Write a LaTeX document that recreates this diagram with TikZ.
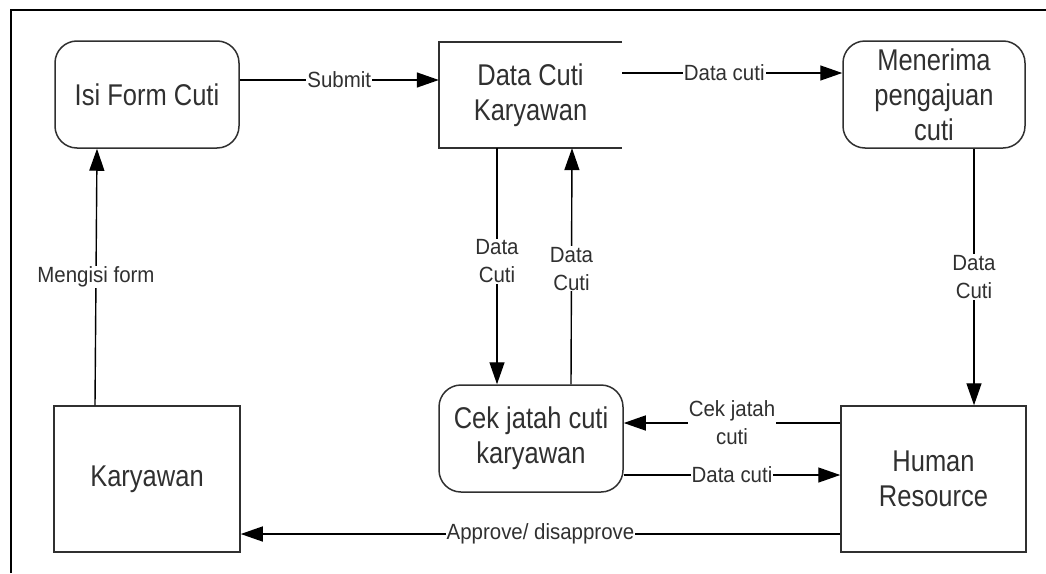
\documentclass[tikz,border=0pt]{standalone}
\usepackage{fontspec}
\usepackage{tikz}
\usetikzlibrary{positioning,arrows.meta}
\newfontfamily\boxfont[FakeStretch=0.85]{Liberation Sans}
\newfontfamily\lblfont[FakeStretch=0.93]{Liberation Sans}
\definecolor{inkgray}{HTML}{303030}
\tikzstyle{base} = [minimum width=184pt, minimum height=107pt, inner sep=2pt, text centered, align=center, text=inkgray, font=\boxfont\fontsize{30}{35}\selectfont]
\tikzstyle{process} = [base, rectangle, rounded corners=22pt, draw=inkgray, line width=1.5pt]
\tikzstyle{entity} = [base, rectangle, minimum height=146pt, draw=inkgray, line width=1.5pt]
\tikzstyle{datastore} = [base, rectangle, minimum width=183pt, minimum height=106pt]
\tikzstyle{connect} = [line width=1.4pt, black, -{Triangle[length=22pt,width=15pt]}]
\tikzstyle{lbl} = [fill=white, inner sep=1pt, text=inkgray, align=center, font=\lblfont\fontsize{22}{28}\selectfont]

\begin{document}
\begin{tikzpicture}[x=1pt, y=-1pt]
	\useasboundingbox (0,0) rectangle (1046,573);
	\draw [line width=2pt] (11,573) -- (11,10) -- (1046,10);
	%-----------------------------------------------
	\node (isiform) [process] at (147,94.5) {Isi Form Cuti};
	\node (store) [datastore] at (530.5,95) {Data Cuti\\Karyawan};
	\node (menerima) [process, minimum width=182pt] at (934,94.5) {Menerima\\pengajuan\\cuti};
	%-----------------------------------------------
	\node (cek) [process] at (531,438.5) {Cek jatah cuti\\karyawan};
	\node (karyawan) [entity, minimum width=186pt] at (147,479) {Karyawan};
	\node (hr) [entity, minimum width=185pt] at (933.5,479) {Human\\Resource};
	%-----------------------------------------------
	\draw [line width=1.5pt, inkgray] (store.north east) -- (store.north west) -- (store.south west) -- (store.south east);
	%-----------------------------------------------
	%-----------------------------------------------
	\draw [connect] ([yshift=14.5pt]isiform.east) -- node[lbl] {Submit} ([yshift=15pt]store.west);
	\draw [connect] ([yshift=22pt]store.east) -- node[lbl, xshift=-8pt] {Data cuti} ([yshift=21.5pt]menerima.west);
	\draw [connect] ([xshift=-52pt]karyawan.north) -- node[lbl] {Mengisi form} ([xshift=-50pt]isiform.south);
	\draw [connect] ([xshift=-33.5pt]store.south) -- node[lbl, pos=0.48] {Data\\Cuti} ([xshift=-34pt]cek.north);
	\draw [connect] ([xshift=40pt]cek.north) -- node[lbl, pos=0.49] {Data\\Cuti} ([xshift=41.5pt]store.south);
	\draw [connect] ([xshift=40pt]menerima.south) -- node[lbl] {Data\\Cuti} ([xshift=40.5pt]hr.north);
	\draw [connect] ([yshift=56pt]hr.west) -- node[lbl] {Cek jatah\\cuti} ([yshift=15.5pt]cek.east);
	\draw [connect] ([yshift=-36.5pt]cek.east) -- node[lbl] {Data cuti} ([yshift=4pt]hr.west);
	\draw [connect] ([yshift=-55pt]hr.west) -- node[lbl] {Approve/ disapprove} ([yshift=-55pt]karyawan.east);
\end{tikzpicture}
\end{document}
